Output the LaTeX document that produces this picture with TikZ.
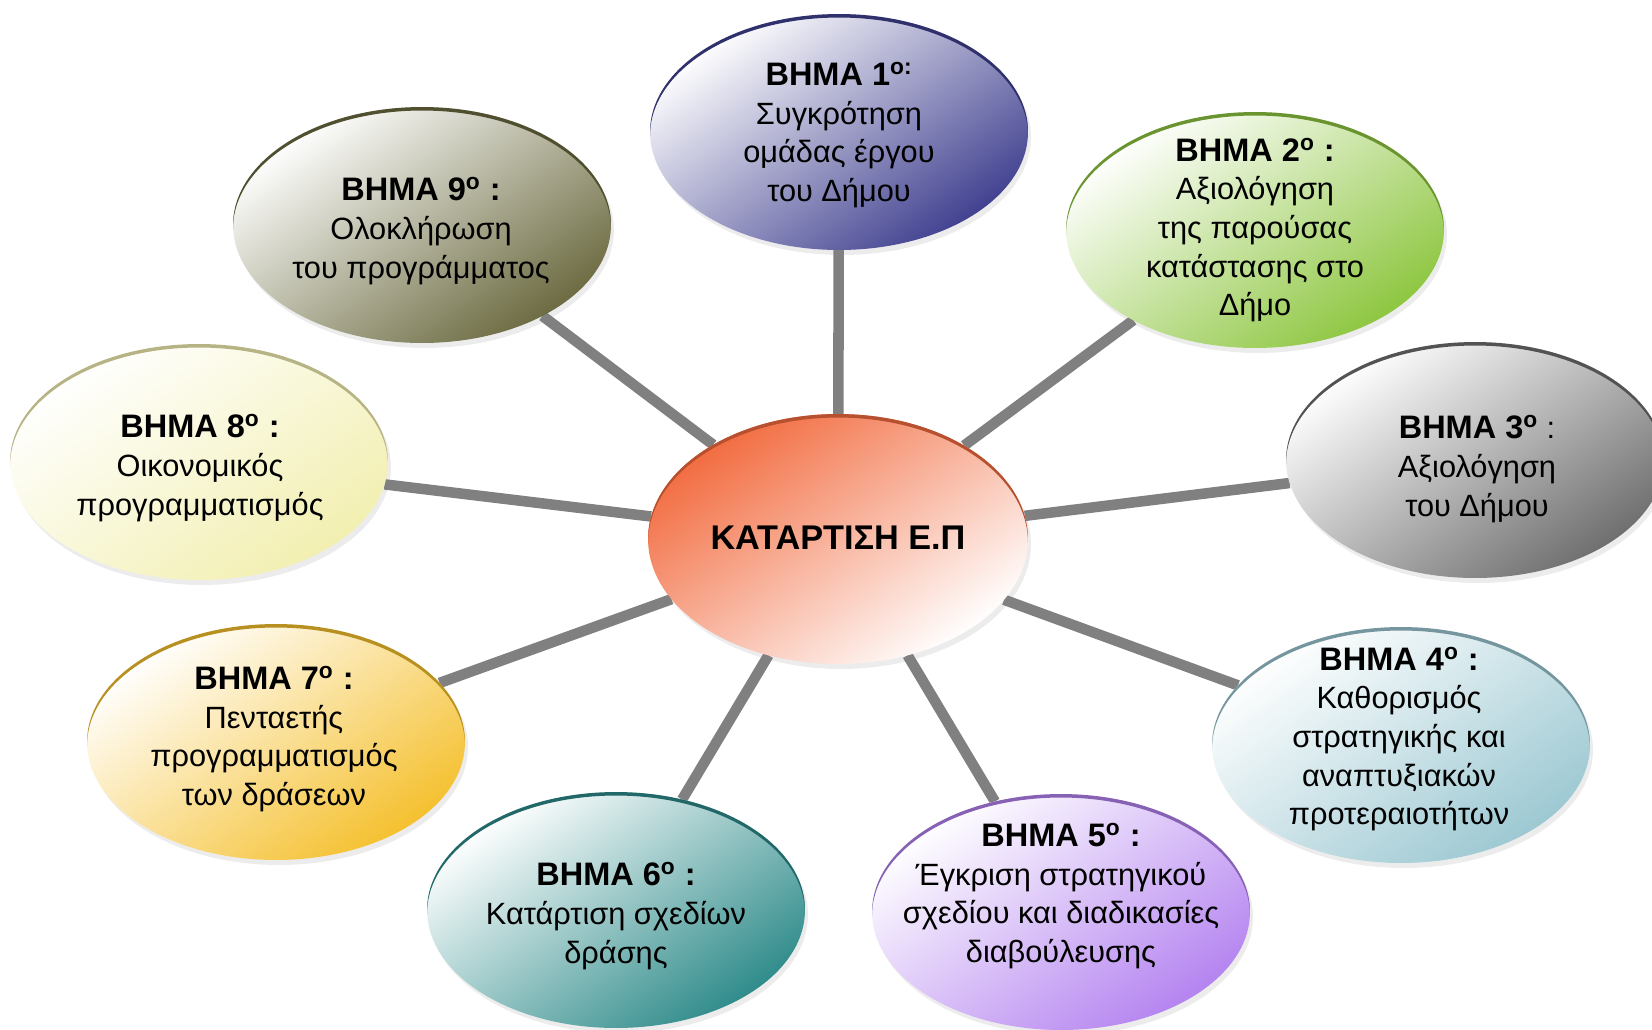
\documentclass[tikz,border=0pt]{standalone}
\usepackage{fontspec}
\setmainfont{Liberation Sans}
\usepackage{xcolor}
\usetikzlibrary{shapes.geometric,shadows,backgrounds}

\definecolor{hubc}{HTML}{F26B3F}
\definecolor{navyc}{HTML}{404090}
\definecolor{leafc}{HTML}{8DC63F}
\definecolor{stonec}{HTML}{6E6E6E}
\definecolor{icec}{HTML}{9CC8D2}
\definecolor{lilacc}{HTML}{B483F0}
\definecolor{tealc}{HTML}{2E8B8A}
\definecolor{goldc}{HTML}{F5C02E}
\definecolor{creamc}{HTML}{F2EFB0}
\definecolor{olivec}{HTML}{6B6A40}

\tikzset{
	stepball/.style={
			ellipse, minimum width=7.56cm, minimum height=4.72cm,
			inner sep=0pt, outer sep=0pt,
			top color=white, middle color=#1!10!white, bottom color=#1,
			shading angle=35,
			drop shadow={shadow xshift=0.6mm, shadow yshift=-1mm, opacity=0.15}
		},
	steptext/.style={align=center, font=\fontsize{17.5}{22}\selectfont},
	spoke/.style={draw=gray, line width=6pt}
}
% bold heading of a step
\newcommand{\hd}[1]{{\fontsize{18.5}{22}\selectfont\bfseries #1}}
% coloured rim along the top of a ball
\newcommand{\rim}[4]{%
	\fill[#2!75!black] ([xshift=-#3]#1.center) arc[start angle=180, end angle=0, x radius=#3, y radius=#4]
	-- ++(0,-0.7mm) arc[start angle=0, end angle=180, x radius=#3, y radius=#4] -- cycle;}

\begin{document}
\begin{tikzpicture}[x=0.02cm, y=-0.02cm]
		\useasboundingbox (0,0) rectangle (1652,1029);

		% centre
		\node[stepball=white, top color=hubc, middle color=hubc!30!white, bottom color=white,
			shading angle=35, minimum width=7.6cm, minimum height=5cm] (hub) at (838,539) {};
		\node[steptext, font=\fontsize{19.5}{22}\selectfont\bfseries] (thub) at (838,538) {ΚΑΤΑΡΤΙΣΗ Ε.Π};

		% the nine steps
		\node[stepball=navyc] (s1) at (839,132) {};
		\node[steptext] (t1) at (839,135) {\hd{ΒΗΜΑ 1\textsuperscript{ο:}}\\Συγκρότηση\\ομάδας έργου\\του Δήμου};

		\node[stepball=leafc] (s2) at (1255,230) {};
		\node[steptext] (t2) at (1255,230) {\hd{ΒΗΜΑ 2\textsuperscript{ο} :}\\Αξιολόγηση\\της παρούσας\\κατάστασης στο\\Δήμο};

		\node[stepball=stonec] (s3) at (1475,460) {};
		\node[steptext] (t3) at (1477,469) {\hd{ΒΗΜΑ 3\textsuperscript{ο}} :\\Αξιολόγηση\\του Δήμου};

		\node[stepball=icec] (s4) at (1401,745) {};
		\node[steptext] (t4) at (1399,739) {\hd{ΒΗΜΑ 4\textsuperscript{ο} :}\\Καθορισμός\\στρατηγικής και\\αναπτυξιακών\\προτεραιοτήτων};

		\node[stepball=lilacc] (s5) at (1061,912) {};
		\node[steptext] (t5) at (1061,896) {\hd{ΒΗΜΑ 5\textsuperscript{ο} :}\\Έγκριση στρατηγικού\\σχεδίου και διαδικασίες\\διαβούλευσης};

		\node[stepball=tealc] (s6) at (616,910) {};
		\node[steptext] (t6) at (616,916) {\hd{ΒΗΜΑ 6\textsuperscript{ο} :}\\Κατάρτιση σχεδίων\\δράσης};

		\node[stepball=goldc] (s7) at (276,742) {};
		\node[steptext] (t7) at (274,739) {\hd{ΒΗΜΑ 7\textsuperscript{ο} :}\\Πενταετής\\προγραμματισμός\\των δράσεων};

		\node[stepball=creamc] (s8) at (199,462) {};
		\node[steptext] (t8) at (200,468) {\hd{ΒΗΜΑ 8\textsuperscript{ο} :}\\Οικονομικός\\προγραμματισμός};

		\node[stepball=olivec] (s9) at (422,225) {};
		\node[steptext] (t9) at (421,231) {\hd{ΒΗΜΑ 9\textsuperscript{ο} :}\\Ολοκλήρωση\\του προγράμματος};

		% rims
		\rim{hub}{hubc}{3.8cm}{2.5cm}
		\rim{s1}{navyc}{3.78cm}{2.36cm}
		\rim{s2}{leafc}{3.78cm}{2.36cm}
		\rim{s3}{stonec}{3.78cm}{2.36cm}
		\rim{s4}{icec}{3.78cm}{2.36cm}
		\rim{s5}{lilacc}{3.78cm}{2.36cm}
		\rim{s6}{tealc}{3.78cm}{2.36cm}
		\rim{s7}{goldc}{3.78cm}{2.36cm}
		\rim{s8}{creamc}{3.78cm}{2.36cm}
		\rim{s9}{olivec}{3.78cm}{2.36cm}

		% spokes
		\begin{scope}[on background layer]
			\draw[spoke] (hub) -- (s1);
			\draw[spoke] (hub) -- (s2);
			\draw[spoke] (hub) -- (s3);
			\draw[spoke] (hub) -- (s4);
			\draw[spoke] (hub) -- (s5);
			\draw[spoke] (hub) -- (s6);
			\draw[spoke] (hub) -- (s7);
			\draw[spoke] (hub) -- (s8);
			\draw[spoke] (hub) -- (s9);
		\end{scope}
	\end{tikzpicture}
\end{document}
